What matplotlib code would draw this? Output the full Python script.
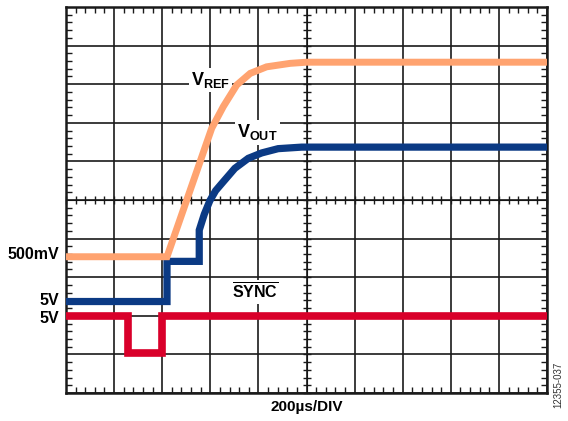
import matplotlib
matplotlib.use("Agg")
import matplotlib.pyplot as plt
from matplotlib.ticker import MultipleLocator
import numpy as np

plt.rcParams['font.family'] = ['Liberation Sans', 'DejaVu Sans']
plt.rcParams['mathtext.fontset'] = 'custom'
plt.rcParams['mathtext.rm'] = 'Liberation Sans:bold'
plt.rcParams['mathtext.bf'] = 'Liberation Sans:bold'
plt.rcParams['mathtext.it'] = 'Liberation Sans:bold'

# ---- data (time in µs, amplitude in screen divisions) ----
US_PER_DIV = 200
vref_t = [0, 420, 606, 654, 710, 766, 834, 932, 1000, 2000]
vref_y = [3.53, 3.53, 6.86, 7.42, 7.98, 8.28, 8.45, 8.54, 8.57, 8.57]

vout_t = [0, 420, 420, 554, 554, 575, 598, 622, 648, 702, 758, 814, 882, 980, 2000]
vout_y = [2.37, 2.37, 3.41, 3.41, 4.22, 4.63, 4.98, 5.24, 5.43, 5.82, 6.08, 6.22, 6.33, 6.37, 6.37]

sync_t = [0, 256, 256, 400, 400, 2000]
sync_y = [2.0, 2.0, 1.03, 1.03, 2.0, 2.0]

left_labels = ['500mV', '5V', '5V']
left_label_y = [3.6, 2.4, 1.92]

c_ref = '#FFA370'
c_out = '#0B3A84'
c_sync = '#D9002A'

fig = plt.figure(figsize=(5.68, 4.21), dpi=100)
ax = fig.add_axes([66/568, 28/421, 481/568, 386/421])
ax.set_xlim(0, 10 * US_PER_DIV)
ax.set_ylim(0, 10)

# grid
ax.set_xticks(np.arange(0, 10 * US_PER_DIV + 1, US_PER_DIV))
ax.set_yticks(np.arange(0, 11, 1))
ax.grid(True, color='#1a1a1a', linewidth=1.2, zorder=1)
ax.set_axisbelow(True)
ax.tick_params(which='major', length=0, labelbottom=False, labelleft=False)
ax.xaxis.set_minor_locator(MultipleLocator(US_PER_DIV / 5))
ax.yaxis.set_minor_locator(MultipleLocator(0.2))
ax.tick_params(which='minor', direction='in', length=4, width=1.0, color='#1a1a1a',
               top=True, right=True, bottom=True, left=True)
for s in ax.spines.values():
    s.set_linewidth(1.8)
    s.set_color('#1a1a1a')

# center axes ticks
secx = ax.secondary_xaxis(0.5)
secx.set_xticks([])
secx.xaxis.set_minor_locator(MultipleLocator(US_PER_DIV / 5))
secx.tick_params(which='minor', direction='inout', length=6, width=1.0, color='#1a1a1a')
secx.spines['bottom'].set_visible(False)
secx.tick_params(labelbottom=False)
secy = ax.secondary_yaxis(0.5)
secy.set_yticks([])
secy.yaxis.set_minor_locator(MultipleLocator(0.2))
secy.tick_params(which='minor', direction='inout', length=6, width=1.0, color='#1a1a1a')
secy.spines['left'].set_visible(False)
secy.tick_params(labelleft=False)

# traces
kw = dict(solid_joinstyle='miter', solid_capstyle='butt', zorder=4)
ax.plot(vout_t, vout_y, color=c_out, lw=5.2, **kw)
ax.plot(sync_t, sync_y, color=c_sync, lw=5.5, **kw)
ax.plot(vref_t, vref_y, color=c_ref, lw=5.0, **kw)

# labels inside
box = dict(facecolor='white', edgecolor='none', pad=1.5)
ax.text(2.6 * US_PER_DIV, 7.98, r'$\mathrm{V}_{\mathrm{REF}}$', fontsize=13,
        ha='left', va='baseline', bbox=box, zorder=3)
ax.text(3.55 * US_PER_DIV, 6.62, r'$\mathrm{V}_{\mathrm{OUT}}$', fontsize=13,
        ha='left', va='baseline', bbox=box, zorder=3)
ax.text(3.94 * US_PER_DIV, 2.44, r'$\overline{\mathrm{SYNC}}$', fontsize=11.5,
        ha='center', va='baseline', bbox=box, zorder=3)

for lab, yy in zip(left_labels, left_label_y):
    ax.text(-0.014, yy / 10, lab, transform=ax.transAxes, ha='right', va='center',
            fontsize=11.5, fontweight='bold')

ax.text(0.5, -0.035, '200µs/DIV', transform=ax.transAxes, ha='center', va='center',
        fontsize=11, fontweight='bold')
fig.text(558/568, 1 - 385/421, '12355-037', rotation=90, ha='center', va='center',
         fontsize=7, color='#333333')

fig.savefig('out.png', dpi=100)
